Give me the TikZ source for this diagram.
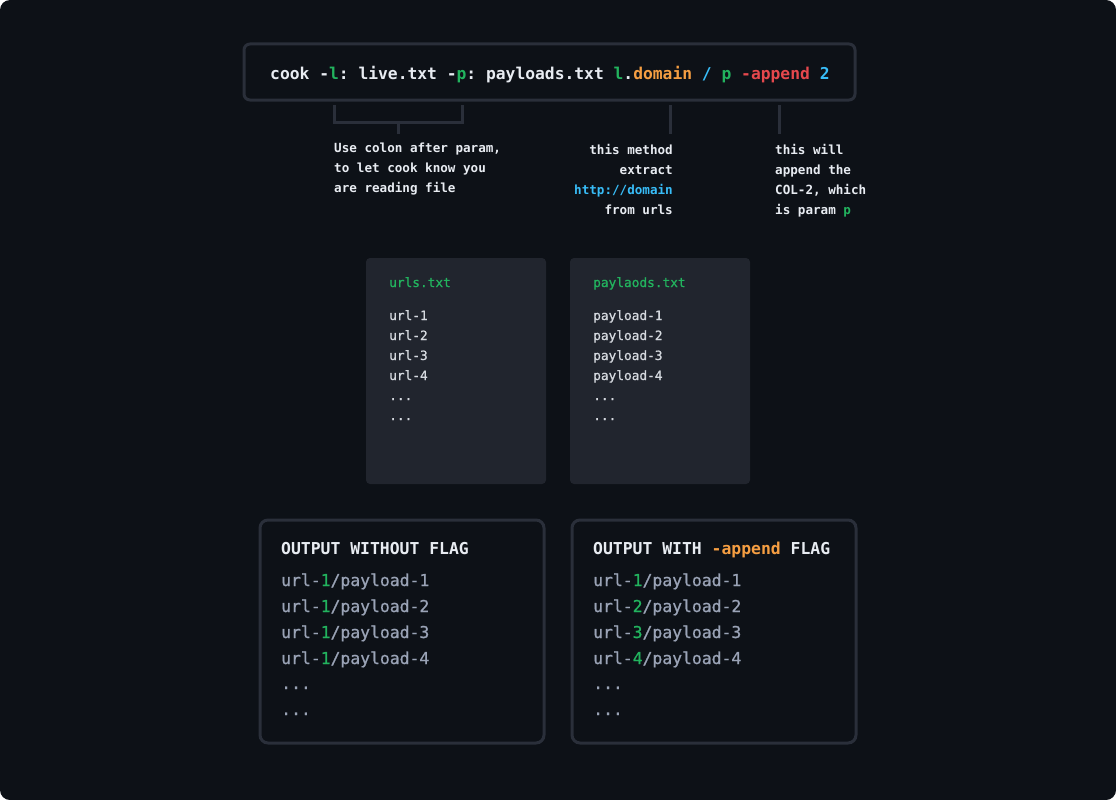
\documentclass[tikz,border=0pt]{standalone}
\usepackage{fontspec}
\setmonofont{DejaVu Sans Mono}
\newfontfamily\medmono[FakeBold=0.9]{DejaVu Sans Mono}
\usetikzlibrary{positioning}

\definecolor{bgdark}{HTML}{0D1117}
\definecolor{boxline}{HTML}{2A2F3A}
\definecolor{filebg}{HTML}{21252E}
\definecolor{txtwhite}{HTML}{E8ECF2}
\definecolor{txtgrey}{HTML}{9AA3B6}
\definecolor{flaggreen}{HTML}{22B35E}
\definecolor{domorange}{HTML}{F59E42}
\definecolor{slashcyan}{HTML}{38BDF8}
\definecolor{appred}{HTML}{E5484D}
\newcommand{\moredots}{...}

\begin{document}
\begin{tikzpicture}[x=1pt, y=-1pt]
    \fill[bgdark, rounded corners=10pt] (0,0) rectangle (1116,800);
    \useasboundingbox (0,0) rectangle (1116,800);

    % boxes
    \begin{scope}[every node/.style={inner sep=0, outer sep=0}]
                        \node [draw=boxline, line width=3pt, fill=bgdark, rounded corners=6pt, minimum width=611pt, minimum height=56pt] (cmd) at (549.5,72) {};
                        \node [fill=filebg, rounded corners=4pt, minimum width=180pt, minimum height=226pt] (urls) at (456,371) {};
                        \node [fill=filebg, rounded corners=4pt, minimum width=180pt, minimum height=226pt] (pays) at (660,371) {};
                        \node [draw=boxline, line width=3pt, fill=bgdark, rounded corners=8pt, minimum width=284pt, minimum height=223pt] (plain) at (402,631.5) {};
                        \node [draw=boxline, line width=3pt, fill=bgdark, rounded corners=8pt, minimum width=284pt, minimum height=223pt] (appd) at (714,631.5) {};
                \end{scope}

    % brackets under the command
    \begin{scope}[every path/.style={draw=boxline, line width=3pt}]
                        \coordinate (colA) at (334,105);
                        \coordinate (colB) at (462,105);
                        \coordinate (domA) at (670,105);
                        \coordinate (appA) at (779,105);
                        \path (colA) -- (334,122) -- (462,122) -- (colB);
                        \path (398,122) -- (398,134);
                        \path (domA) -- (670,134);
                        \path (appA) -- (779,134);
                \end{scope}

    \begin{scope}[every node/.style={inner sep=0, anchor=base west, text=txtwhite}]
                        \node [font=\ttfamily\bfseries\fontsize{16.3}{20}\selectfont] (cmdtext) at (270,79)
                                {cook -\textcolor{flaggreen}{l}: live.txt -\textcolor{flaggreen}{p}: payloads.txt \textcolor{flaggreen}{l}.\textcolor{domorange}{domain} \textcolor{slashcyan}{/} \textcolor{flaggreen}{p} \textcolor{appred}{-append} \textcolor{slashcyan}{2}};

                        % notes
                        \foreach \t [count=\i] in {{Use colon after param,}, {to let cook know you}, {are reading file}}
                                \node [font=\ttfamily\bfseries\fontsize{12.6}{20}\selectfont] (colnote\i) at (334,132+20*\i) {\t};
                        \foreach \t [count=\i] in {{this method}, {extract}, {\textcolor{slashcyan}{http://domain}}, {from urls}}
                                \node [anchor=base east, font=\ttfamily\bfseries\fontsize{12.6}{20}\selectfont] (domnote\i) at (673,134+20*\i) {\t};
                        \foreach \t [count=\i] in {{this will}, {append the}, {COL-2, which}, {is param \textcolor{flaggreen}{p}}}
                                \node [font=\ttfamily\bfseries\fontsize{12.6}{20}\selectfont] (appnote\i) at (775,134+20*\i) {\t};

                        % file contents
                        \node [text=flaggreen, font=\medmono\fontsize{12.8}{20}\selectfont] (urlsname) at (389,287) {urls.txt};
                        \node [text=flaggreen, font=\medmono\fontsize{12.8}{20}\selectfont] (paysname) at (593,287) {paylaods.txt};
                        \foreach \t [count=\i] in {url-1, url-2, url-3, url-4, \moredots, \moredots}
                                \node [text=txtwhite!92!black, font=\medmono\fontsize{12.8}{20}\selectfont] (url\i) at (389,300+20*\i) {\t};
                        \foreach \t [count=\i] in {payload-1, payload-2, payload-3, payload-4, \moredots, \moredots}
                                \node [text=txtwhite!92!black, font=\medmono\fontsize{12.8}{20}\selectfont] (pay\i) at (593,300+20*\i) {\t};

                        % outputs
                        \node [font=\ttfamily\bfseries\fontsize{16.4}{20}\selectfont] (plainhead) at (281,554) {OUTPUT WITHOUT FLAG};
                        \node [font=\ttfamily\bfseries\fontsize{16.4}{20}\selectfont] (appdhead) at (593,554) {OUTPUT WITH \textcolor{domorange}{-append} FLAG};
                        \foreach \i in {1,2,3,4} {
                                \node [text=txtgrey, font=\medmono\fontsize{16.4}{20}\selectfont] (plainrow\i) at (281,560+26*\i) {url-\textcolor{flaggreen}{1}/payload-\i};
                                \node [text=txtgrey, font=\medmono\fontsize{16.4}{20}\selectfont] (appdrow\i) at (593,560+26*\i) {url-\textcolor{flaggreen}{\i}/payload-\i};
                        }
                        \foreach \i/\y in {5/689, 6/715} {
                                \node [text=txtgrey, font=\medmono\fontsize{16.4}{20}\selectfont] (plainrow\i) at (281,\y) {\moredots};
                                \node [text=txtgrey, font=\medmono\fontsize{16.4}{20}\selectfont] (appdrow\i) at (593,\y) {\moredots};
                        }
               \end{scope}
\end{tikzpicture}
\end{document}
